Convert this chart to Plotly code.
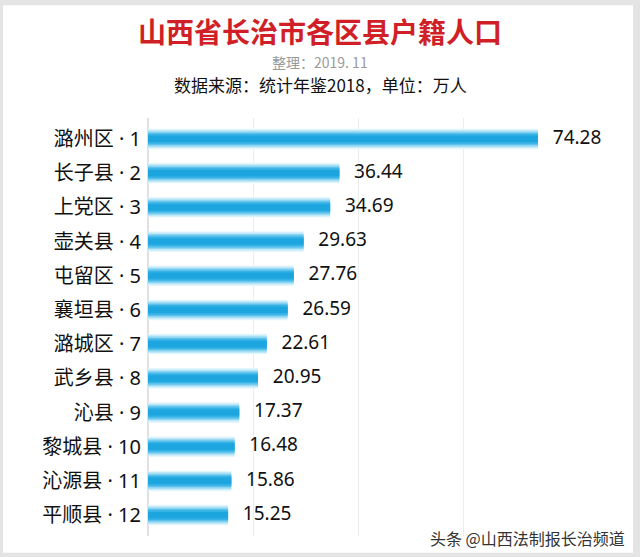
import plotly.graph_objects as go

# Daten
regions = ["潞州区", "长子县", "上党区", "壶关县", "屯留区", "襄垣县",
           "潞城区", "武乡县", "沁县", "黎城县", "沁源县", "平顺县"]
population = [74.28, 36.44, 34.69, 29.63, 27.76, 26.59,
              22.61, 20.95, 17.37, 16.48, 15.86, 15.25]
labels = [f"{r} · {i + 1}" for i, r in enumerate(regions)]

fig = go.Figure()

# Zylinder-Effekt: mehrere überlagerte Balken, innen dunkler
layers = [(0.60, "#e3f5fc"), (0.52, "#bfe8f8"), (0.44, "#8dd5f2"),
          (0.36, "#5cc2ec"), (0.28, "#34b1e5"), (0.18, "#1ca5df")]
for w, c in layers:
    fig.add_trace(go.Bar(
        x=population, y=labels, orientation="h", width=w,
        marker=dict(color=c, line=dict(width=0)),
        hoverinfo="skip", showlegend=False,
    ))

# Werte rechts neben den Balken
fig.add_trace(go.Scatter(
    x=population, y=labels, mode="text",
    text=[f"   {v:.2f}" for v in population], textposition="middle right",
    textfont=dict(size=19, color="#111111", family="Noto Sans, Noto Sans CJK SC"),
    cliponaxis=False, hoverinfo="skip", showlegend=False,
))

fig.update_layout(
    width=640, height=557,
    barmode="overlay",
    margin=dict(l=148, r=72, t=118, b=21),
    paper_bgcolor="#e4e4e4",
    plot_bgcolor="rgba(0,0,0,0)",
    font=dict(family="Noto Sans CJK SC", color="#111111"),
    shapes=[dict(type="rect", xref="paper", yref="paper",
                 x0=-0.345, x1=1.155, y0=-0.04, y1=1.27,
                 fillcolor="white", line=dict(width=0), layer="below")],
    annotations=[
        dict(text="<b>山西省长治市各区县户籍人口</b>", xref="paper", yref="paper",
             x=0.41, y=1.207, yanchor="middle", showarrow=False,
             font=dict(size=28, color="#d01f26", family="Noto Sans CJK SC")),
        dict(text="整理：2019. 11", xref="paper", yref="paper",
             x=0.41, y=1.134, yanchor="middle", showarrow=False,
             font=dict(size=14, color="#9a9a9a", family="Noto Sans CJK SC")),
        dict(text="数据来源：统计年鉴2018，单位：万人", xref="paper", yref="paper",
             x=0.41, y=1.08, yanchor="middle", showarrow=False,
             font=dict(size=17, color="#111111", family="Noto Sans CJK SC")),
        dict(text="头条 @山西法制报长治频道", xref="paper", yref="paper",
             x=1.14, y=-0.005, xanchor="right", yanchor="middle", showarrow=False,
             font=dict(size=16, color="#333333", family="Noto Sans CJK SC")),
    ],
)

fig.update_xaxes(range=[0, 80], dtick=20, showticklabels=False, automargin=False,
                 showgrid=True, gridcolor="#ececec", gridwidth=1,
                 zeroline=True, zerolinecolor="#e0e0e0", fixedrange=True)
fig.update_yaxes(autorange="reversed", automargin=False,
                 tickfont=dict(size=20, color="#111111",
                               family="Noto Sans, Noto Sans CJK SC"),
                 ticks="", ticklabelstandoff=6, showgrid=False, fixedrange=True)

# Seitenrand des Browsers entfernen, damit die Grafik bei (0, 0) beginnt
fig.write_html("out.html", config={"displayModeBar": False},
               post_script="document.body.style.margin='0';")
